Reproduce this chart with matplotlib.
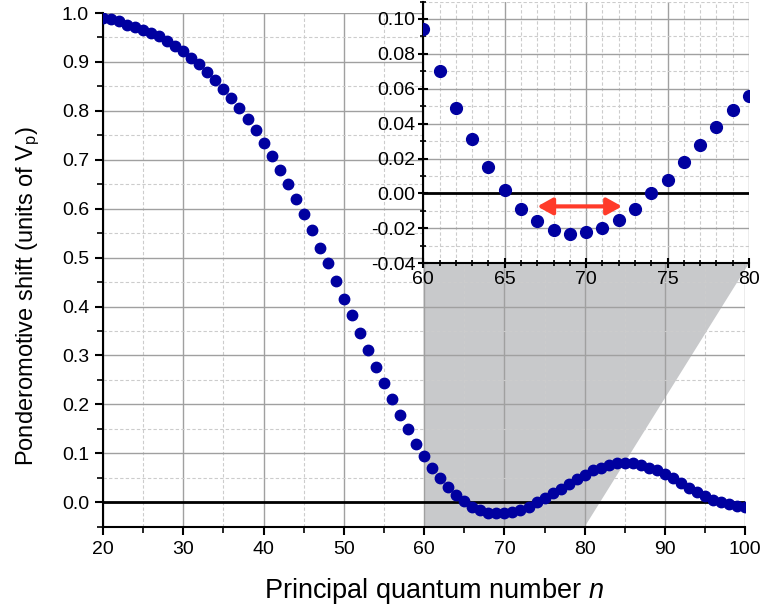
import numpy as np
import matplotlib
matplotlib.use("Agg")
import matplotlib.pyplot as plt
from matplotlib.patches import Polygon
from matplotlib.ticker import MultipleLocator

plt.rcParams['font.family'] = ['Liberation Sans', 'DejaVu Sans']
plt.rcParams['mathtext.fontset'] = 'custom'
plt.rcParams['mathtext.rm'] = 'Liberation Sans'
plt.rcParams['mathtext.it'] = 'Liberation Sans:italic'

# principal quantum number and ponderomotive shift (units of Vp)
n = list(range(20, 101))
shift = [0.990, 0.988, 0.983, 0.976, 0.971, 0.965, 0.959, 0.952, 0.943, 0.932,
         0.922, 0.908, 0.896, 0.880, 0.864, 0.845, 0.826, 0.805, 0.784, 0.760,
         0.734, 0.707, 0.680, 0.651, 0.620, 0.589, 0.556, 0.520, 0.488, 0.452,
         0.416, 0.382, 0.346, 0.311, 0.277, 0.243, 0.210, 0.179, 0.149, 0.120,
         0.094, 0.070, 0.049, 0.031, 0.015, 0.002, -0.009, -0.016, -0.021, -0.023,
         -0.022, -0.020, -0.015, -0.009, -0.000, 0.008, 0.018, 0.028, 0.038, 0.048,
         0.056, 0.065, 0.071, 0.076, 0.080, 0.081, 0.080, 0.076, 0.071, 0.066,
         0.058, 0.049, 0.039, 0.029, 0.020, 0.012, 0.005, 0.001, -0.003, -0.007,
         -0.009]

zoom_range = (60, 80)
arrow_span = (67.0, 72.2)
arrow_y = -0.0074

W, H = 767, 613
fig = plt.figure(figsize=(W / 100, H / 100), dpi=100)

dot = '#0000a0'
major_grid = dict(color='#a0a0a0', lw=1.0, ls='-')
minor_grid = dict(color='#cccccc', lw=0.8, ls=(0, (3, 2)))

# main axes
ax = fig.add_axes([103 / W, 1 - 526.7 / H, (745.3 - 103) / W, (526.7 - 13) / H])
ax.set_xlim(20, 100)
ax.set_ylim(-0.05, 1.0)
ax.xaxis.set_major_locator(MultipleLocator(10))
ax.xaxis.set_minor_locator(MultipleLocator(5))
ax.yaxis.set_major_locator(MultipleLocator(0.1))
ax.yaxis.set_minor_locator(MultipleLocator(0.05))
ax.grid(True, which='major', **major_grid)
ax.grid(True, which='minor', **minor_grid)
ax.set_axisbelow(True)
for s in ['top', 'right']:
    ax.spines[s].set_visible(False)
for s in ['left', 'bottom']:
    ax.spines[s].set_linewidth(1.5)
ax.tick_params(which='major', direction='out', length=6, width=1.5, labelsize=14, pad=4)
ax.tick_params(which='minor', direction='out', length=4, width=1.2)
ax.yaxis.set_major_formatter(matplotlib.ticker.FormatStrFormatter('%.1f'))
ax.axhline(0, color='black', lw=2, zorder=2)
ax.plot(n, shift, 'o', color=dot, ms=7.5, zorder=3)
ax.set_xlabel('Principal quantum number $n$', fontsize=19.5)
ax.set_ylabel('Ponderomotive shift (units of V$_{\\rm p}$)', fontsize=17)
ax.xaxis.set_label_coords(0.515, -0.095)
ax.yaxis.set_label_coords(-0.095, 0.45)

# inset
in_left, in_right, in_bottom, in_top = 423.3, 749, 263.3, 1.5
axi = fig.add_axes([in_left / W, 1 - in_bottom / H, (in_right - in_left) / W, (in_bottom - in_top) / H])
axi.set_xlim(*zoom_range)
axi.set_ylim(-0.04, 0.11)
axi.xaxis.set_major_locator(MultipleLocator(5))
axi.xaxis.set_minor_locator(MultipleLocator(1))
axi.yaxis.set_major_locator(MultipleLocator(0.02))
axi.yaxis.set_minor_locator(MultipleLocator(0.01))
axi.grid(True, which='major', **major_grid)
axi.grid(True, which='minor', **minor_grid)
axi.set_axisbelow(True)
for s in ['top', 'right']:
    axi.spines[s].set_visible(False)
for s in ['left', 'bottom']:
    axi.spines[s].set_linewidth(1.5)
axi.tick_params(which='major', direction='inout', length=7, width=1.5, labelsize=14, pad=2)
axi.tick_params(which='minor', direction='inout', length=4, width=1.2)
axi.yaxis.set_major_formatter(matplotlib.ticker.FormatStrFormatter('%.2f'))
axi.axhline(0, color='black', lw=2, zorder=2)
axi.plot(n, shift, 'o', color=dot, ms=8.5, zorder=3)
axi.annotate('', xy=(arrow_span[0], arrow_y), xytext=(arrow_span[1], arrow_y),
             arrowprops=dict(arrowstyle='<|-|>,head_length=0.9,head_width=0.5',
                             color='#ff3b2a', lw=3, shrinkA=0, shrinkB=0))

# grey connector between the zoomed range and the inset
to_data = ax.transData.inverted()
bl = to_data.transform((in_left, H - in_bottom))
br = to_data.transform((in_right, H - in_bottom))
poly = Polygon([(zoom_range[0], -0.05), bl, br, (zoom_range[1], -0.05)],
               closed=True, facecolor='#c8c9cb', edgecolor='none', zorder=0.4, clip_on=False)
ax.add_patch(poly)

fig.savefig('out.png', dpi=100)
